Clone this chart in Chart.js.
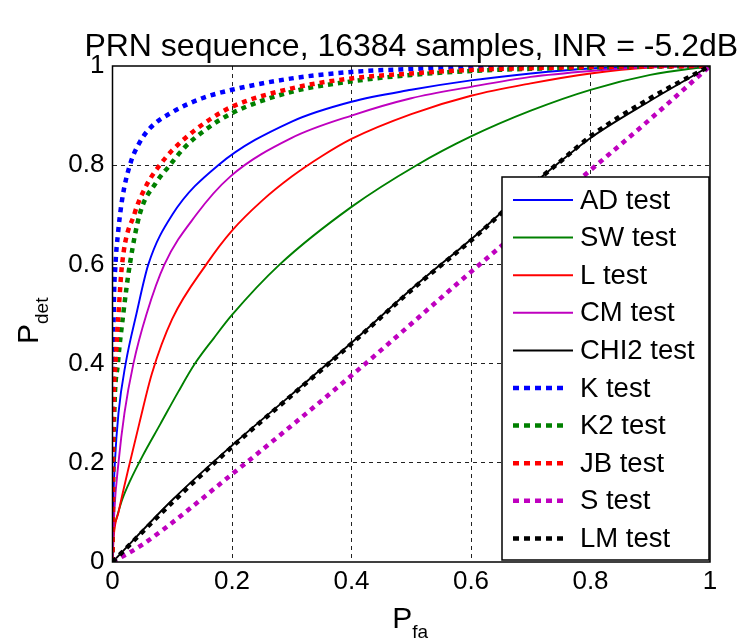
<!DOCTYPE html>
<html>
<head>
<meta charset="utf-8">
<script src="https://cdn.jsdelivr.net/npm/chart.js@4.4.0/dist/chart.umd.min.js"></script>
<style>
  html, body { margin: 0; padding: 0; background: #fff; }
  #wrap { width: 742px; height: 643px; }
</style>
</head>
<body>
<div id="wrap"><canvas id="roc" width="742" height="643"></canvas></div>
<script>
const titleText = "PRN sequence, 16384 samples, INR = -5.2dB";
const tickValues = [0, 0.2, 0.4, 0.6, 0.8, 1];
const tickLabels = ["0", "0.2", "0.4", "0.6", "0.8", "1"];

const seriesNames = ["AD test", "SW test", "L test", "CM test", "CHI2 test",
                     "K test", "K2 test", "JB test", "S test", "LM test"];
const seriesColors = ["#0000ff", "#008000", "#ff0000", "#bf00bf", "#000000",
                      "#0000ff", "#008000", "#ff0000", "#bf00bf", "#000000"];
const seriesDotted = [false, false, false, false, false, true, true, true, true, true];

// ROC curves: false alarm probability (x) vs detection probability (y)
const adPfa  = [0, 0.001, 0.004, 0.01, 0.022, 0.04, 0.06, 0.1, 0.177, 0.3, 0.4, 0.5, 0.6, 0.7, 0.8, 0.9, 1];
const adPdet = [0, 0.1, 0.2, 0.3, 0.4, 0.5, 0.6, 0.7, 0.8, 0.888, 0.928, 0.952, 0.971, 0.985, 0.995, 0.999, 1];

const swPfa  = [0, 0.001, 0.006, 0.016, 0.03, 0.05, 0.08, 0.11, 0.138, 0.17, 0.2, 0.28, 0.4, 0.509, 0.6, 0.7, 0.8, 0.9, 1];
const swPdet = [0, 0.05, 0.085, 0.125, 0.165, 0.213, 0.278, 0.343, 0.4, 0.452, 0.498, 0.6, 0.716, 0.8, 0.858, 0.91, 0.952, 0.982, 1];

const lPfa  = [0, 0.002, 0.01, 0.027, 0.045, 0.066, 0.1, 0.157, 0.2, 0.25, 0.3, 0.35, 0.4, 0.5, 0.6, 0.7, 0.8, 0.9, 1];
const lPdet = [0, 0.05, 0.1, 0.19, 0.28, 0.38, 0.49, 0.6, 0.668, 0.728, 0.777, 0.818, 0.853, 0.903, 0.94, 0.965, 0.985, 0.997, 1];

const cmPfa  = [0, 0.003, 0.01, 0.02, 0.035, 0.057, 0.087, 0.14, 0.197, 0.3, 0.4, 0.5, 0.6, 0.7, 0.8, 0.9, 1];
const cmPdet = [0, 0.1, 0.2, 0.3, 0.4, 0.5, 0.6, 0.7, 0.777, 0.855, 0.9, 0.935, 0.958, 0.978, 0.99, 0.998, 1];

const chiPfa  = [0, 0.1, 0.2, 0.3, 0.4, 0.5, 0.615, 0.7, 0.75, 0.8, 0.9, 1];
const chiPdet = [0, 0.125, 0.235, 0.338, 0.442, 0.55, 0.666, 0.758, 0.808, 0.855, 0.93, 1];

const kPfa  = [0, 0.0005, 0.002, 0.005, 0.009, 0.016, 0.029, 0.045, 0.063, 0.1, 0.15, 0.2, 0.3, 0.4, 0.5, 0.6, 0.8, 1];
const kPdet = [0, 0.3, 0.5, 0.6, 0.66, 0.73, 0.8, 0.845, 0.875, 0.907, 0.935, 0.952, 0.975, 0.988, 0.994, 0.998, 1, 1];

const k2Pfa  = [0, 0.002, 0.009, 0.018, 0.029, 0.046, 0.073, 0.096, 0.12, 0.154, 0.2, 0.3, 0.4, 0.5, 0.6, 0.8, 1];
const k2Pdet = [0, 0.25, 0.4, 0.5, 0.6, 0.703, 0.765, 0.8, 0.835, 0.87, 0.905, 0.948, 0.969, 0.982, 0.99, 0.997, 1];

const jbPfa  = [0, 0.001, 0.005, 0.01, 0.016, 0.037, 0.057, 0.079, 0.1, 0.132, 0.165, 0.2, 0.3, 0.4, 0.5, 0.6, 0.8, 1];
const jbPdet = [0, 0.25, 0.4, 0.5, 0.6, 0.703, 0.76, 0.8, 0.83, 0.865, 0.894, 0.918, 0.955, 0.975, 0.985, 0.992, 0.998, 1];

const sPfa  = [0, 0.05, 0.2, 0.4, 0.6, 0.8, 0.9, 1];
const sPdet = [0, 0.035, 0.177, 0.376, 0.585, 0.79, 0.893, 1];

const lmPfa  = [0, 0.1, 0.2, 0.3, 0.4, 0.5, 0.615, 0.7, 0.75, 0.8, 0.9, 1];
const lmPdet = [0, 0.12, 0.232, 0.336, 0.44, 0.548, 0.664, 0.758, 0.808, 0.858, 0.935, 1];

const allPfa  = [adPfa, swPfa, lPfa, cmPfa, chiPfa, kPfa, k2Pfa, jbPfa, sPfa, lmPfa];
const allPdet = [adPdet, swPdet, lPdet, cmPdet, chiPdet, kPdet, k2Pdet, jbPdet, sPdet, lmPdet];

const FONT = "'Liberation Sans', Arial, sans-serif";

const datasets = seriesNames.map((name, i) => ({
    label: name,
    data: allPfa[i].map((x, j) => ({ x: x, y: allPdet[i][j] })),
    borderColor: seriesColors[i],
    backgroundColor: seriesColors[i],
    borderWidth: seriesDotted[i] ? 4.5 : 1.9,
    borderDash: seriesDotted[i] ? [5, 5] : [],
    showLine: true,
    pointRadius: 0,
    cubicInterpolationMode: "monotone",
    order: seriesNames.length - i
}));

// frame, title, axis labels with subscripts and the boxed legend
const decorations = {
    id: "decorations",
    afterDraw(chart) {
        const ctx = chart.ctx;
        const a = chart.chartArea;
        ctx.save();
        ctx.strokeStyle = "#000";
        ctx.lineWidth = 1.5;
        ctx.strokeRect(a.left, a.top, a.right - a.left, a.bottom - a.top);

        ctx.fillStyle = "#000";
        ctx.textAlign = "center";
        ctx.textBaseline = "alphabetic";
        ctx.font = "32px " + FONT;
        ctx.fillText(titleText, (a.left + a.right) / 2, 56);

        // x label P_fa
        ctx.textAlign = "left";
        ctx.font = "30px " + FONT;
        const cx = (a.left + a.right) / 2;
        ctx.fillText("P", cx - 19, 628);
        ctx.font = "19px " + FONT;
        ctx.fillText("fa", cx + 1, 638);

        // y label P_det (rotated)
        ctx.translate(38, (a.top + a.bottom) / 2);
        ctx.rotate(-Math.PI / 2);
        ctx.font = "30px " + FONT;
        ctx.fillText("P", -30, 0);
        ctx.font = "19px " + FONT;
        ctx.fillText("det", -10, 10);
        ctx.restore();

        // legend
        ctx.save();
        const bx = a.right - 208, by = a.top + 111, bw = 207, bh = 383;
        ctx.fillStyle = "#fff";
        ctx.fillRect(bx, by, bw, bh);
        ctx.strokeStyle = "#000";
        ctx.lineWidth = 1.5;
        ctx.strokeRect(bx, by, bw, bh);
        ctx.font = "27.5px " + FONT;
        ctx.textBaseline = "middle";
        ctx.textAlign = "left";
        seriesNames.forEach((name, i) => {
            const y = by + 23 + i * 37.6;
            ctx.strokeStyle = seriesColors[i];
            if (seriesDotted[i]) {
                ctx.lineWidth = 4.5;
                ctx.setLineDash([6, 5]);
                ctx.beginPath();
                ctx.moveTo(bx + 11, y);
                ctx.lineTo(bx + 66, y);
                ctx.stroke();
            } else {
                ctx.lineWidth = 2;
                ctx.setLineDash([]);
                ctx.beginPath();
                ctx.moveTo(bx + 11, y);
                ctx.lineTo(bx + 71, y);
                ctx.stroke();
            }
            ctx.fillStyle = "#000";
            ctx.fillText(name, bx + 78, y + 1);
        });
        ctx.restore();
    }
};

const gridColor = c => (c.tick && (c.tick.value === 0 || c.tick.value === 1)) ? "rgba(0,0,0,0)" : "#222";

new Chart(document.getElementById("roc"), {
    type: "scatter",
    data: { datasets: datasets },
    options: {
        responsive: false,
        animation: false,
        devicePixelRatio: 1,
        layout: { padding: { left: 0, right: 32, top: 66, bottom: 0 } },
        plugins: {
            legend: { display: false },
            tooltip: { enabled: false }
        },
        scales: {
            x: {
                type: "linear",
                min: 0,
                max: 1,
                afterBuildTicks: scale => { scale.ticks = tickValues.map(v => ({ value: v })); },
                afterFit: scale => { scale.height = 81; },
                ticks: {
                    color: "#000",
                    font: { family: FONT, size: 26 },
                    padding: 4,
                    maxRotation: 0,
                    callback: (v, i) => tickLabels[i]
                },
                grid: { color: gridColor, lineWidth: 1, drawTicks: false },
                border: { display: false, dash: [4, 4] }
            },
            y: {
                type: "linear",
                min: 0,
                max: 1,
                afterBuildTicks: scale => { scale.ticks = tickValues.map(v => ({ value: v })); },
                afterFit: scale => { scale.width = 112.5; },
                ticks: {
                    color: "#000",
                    font: { family: FONT, size: 26 },
                    padding: 8,
                    callback: (v, i) => tickLabels[i]
                },
                grid: { color: gridColor, lineWidth: 1, drawTicks: false },
                border: { display: false, dash: [4, 4] }
            }
        }
    },
    plugins: [decorations]
});
</script>
</body>
</html>
